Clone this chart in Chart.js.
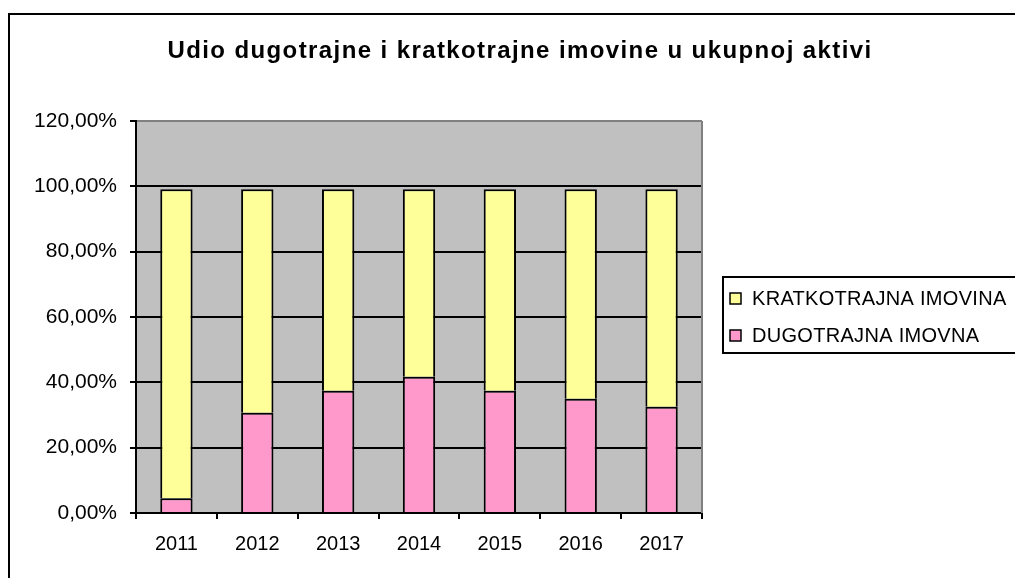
<!DOCTYPE html>
<html>
<head>
<meta charset="utf-8">
<script src="https://cdn.jsdelivr.net/npm/chart.js@4"></script>
<style>
  html, body { margin: 0; padding: 0; background: #fff; }
  #wrap { width: 1015px; height: 578px; }
</style>
</head>
<body>
<div id="wrap"><canvas id="myChart"></canvas></div>
<script>
const years = ['2011', '2012', '2013', '2014', '2015', '2016', '2017'];
const dugotrajna = [4.5, 30.7, 37.4, 41.7, 37.4, 35.0, 32.5];
const kratkotrajna = [94.6, 68.4, 61.7, 57.4, 61.7, 64.1, 66.6];
const yTicks = [0, 20, 40, 60, 80, 100, 120];
const chartTitle = 'Udio dugotrajne i kratkotrajne imovine u ukupnoj aktivi';

const FONT = "'Liberation Sans', Arial, sans-serif";

const ctx = document.getElementById('myChart');

// gray plot background + right gray edge
const plotBg = {
  id: 'plotBg',
  beforeDraw(chart) {
    const { ctx, chartArea: a } = chart;
    ctx.save();
    ctx.fillStyle = '#C0C0C0';
    ctx.fillRect(a.left, a.top, a.right - a.left, a.bottom - a.top);
    ctx.restore();
  },
  beforeDatasetsDraw(chart) {
    const { ctx, chartArea: a } = chart;
    ctx.save();
    ctx.strokeStyle = '#808080';
    ctx.lineWidth = 2;
    ctx.beginPath();
    ctx.moveTo(a.right, a.top);
    ctx.lineTo(a.right, a.bottom);
    ctx.stroke();
    ctx.restore();
  }
};

// outer frame, title and boxed legend like the excel original
const frame = {
  id: 'frame',
  afterDraw(chart) {
    const c = chart.ctx;
    c.save();
    c.strokeStyle = '#000';
    c.lineWidth = 2;
    c.strokeRect(9, 14, 1020, 600);

    c.fillStyle = '#000';
    c.font = 'bold 24px ' + FONT;
    c.letterSpacing = '1.4px';
    c.textAlign = 'center';
    c.textBaseline = 'alphabetic';
    c.fillText(chartTitle, 520, 58);

    // legend
    c.lineWidth = 2;
    c.strokeRect(723, 277, 300, 76);
    const items = chart.data.datasets.slice().reverse();
    c.font = '20px ' + FONT;
    c.letterSpacing = '0.3px';
    c.textAlign = 'left';
    c.textBaseline = 'middle';
    items.forEach((ds, i) => {
      const y = 298 + i * 37;
      c.fillStyle = ds.backgroundColor;
      c.fillRect(730, y - 5, 11, 11);
      c.lineWidth = 1.5;
      c.strokeStyle = '#000';
      c.strokeRect(730, y - 5, 11, 11);
      c.fillStyle = '#000';
      c.fillText(ds.label, 752, y + 1);
    });
    c.restore();
  }
};

new Chart(ctx, {
  type: 'bar',
  data: {
    labels: years,
    datasets: [
      {
        label: 'DUGOTRAJNA IMOVNA',
        data: dugotrajna,
        backgroundColor: '#FF99CC',
        borderColor: '#000',
        borderWidth: 2,
        barPercentage: 0.4,
        categoryPercentage: 1
      },
      {
        label: 'KRATKOTRAJNA IMOVINA',
        data: kratkotrajna,
        backgroundColor: '#FFFF99',
        borderColor: '#000',
        borderWidth: 2,
        barPercentage: 0.4,
        categoryPercentage: 1
      }
    ]
  },
  options: {
    responsive: true,
    maintainAspectRatio: false,
    animation: false,
    layout: {
      padding: { top: 121, left: 0, right: 313, bottom: 0 }
    },
    scales: {
      x: {
        stacked: true,
        afterFit(scale) { scale.height = 65; },
        grid: {
          offset: true,
          drawOnChartArea: false,
          drawTicks: true,
          tickLength: 6,
          tickColor: '#000',
          lineWidth: 2
        },
        border: { color: '#000', width: 2 },
        ticks: {
          color: '#000',
          padding: 13,
          font: { family: FONT, size: 20 }
        }
      },
      y: {
        stacked: true,
        min: 0,
        max: 120,
        afterFit(scale) { scale.width = 136; },
        afterBuildTicks(scale) { scale.ticks = yTicks.map(v => ({ value: v })); },
        grid: {
          color: (c) => (c.tick && c.tick.value === 120 ? '#808080' : '#000'),
          lineWidth: 2,
          tickLength: 6,
          tickColor: '#000'
        },
        border: { color: '#000', width: 2 },
        ticks: {
          color: '#000',
          padding: 13,
          font: { family: FONT, size: 21 },
          callback: (v) => v.toFixed(2).replace('.', ',') + '%'
        }
      }
    },
    plugins: {
      legend: { display: false },
      title: { display: false },
      tooltip: { enabled: false }
    }
  },
  plugins: [plotBg, frame]
});
</script>
</body>
</html>
